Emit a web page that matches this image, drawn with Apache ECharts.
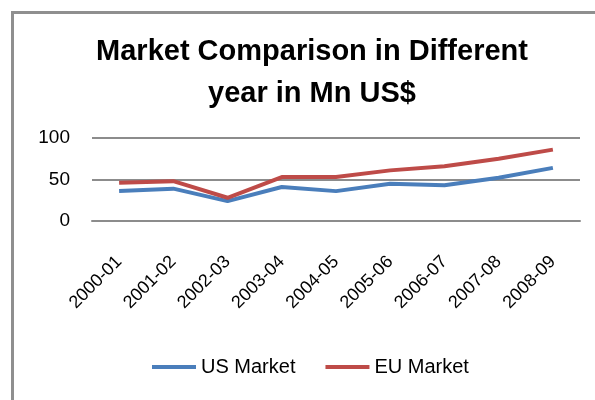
<!DOCTYPE html>
<html>
<head>
<meta charset="utf-8">
<script src="https://cdn.jsdelivr.net/npm/echarts@6/dist/echarts.min.js"></script>
<style>html,body{margin:0;padding:0;background:#fff;}#c{width:595px;height:400px;}</style>
</head>
<body>
<div id="c"></div>
<script>
var categories = ['2000-01','2001-02','2002-03','2003-04','2004-05','2005-06','2006-07','2007-08','2008-09'];
var usMarket = [36, 39, 24, 41, 36, 45, 43, 52, 64];
var euMarket = [46, 48, 28, 53, 53, 61, 66, 75, 86];
var yTicks = [0, 50, 100];

var chart = echarts.init(document.getElementById('c'), null, {renderer: 'canvas'});
var font = 'Liberation Sans, Arial, sans-serif';
chart.setOption({
  animation: false,
  backgroundColor: '#fff',
  graphic: [{
    type: 'rect', left: 10, top: 10, z: 100,
    shape: {x: 0, y: 0, width: 700, height: 500},
    style: {fill: 'none', stroke: '#8f8f8f', lineWidth: 3}
  }],
  title: {
    text: 'Market Comparison in Different\nyear in Mn US$',
    left: 307, textAlign: 'center', top: 26,
    textStyle: {fontFamily: font, fontWeight: 'bold', fontSize: 29, lineHeight: 42, color: '#000'}
  },
  legend: {
    bottom: 18, left: 147,
    icon: 'rect', itemWidth: 44, itemHeight: 4, itemGap: 30, itemTextGap: 7,
    textStyle: {fontFamily: font, fontSize: 20, color: '#000'},
    data: ['US Market', 'EU Market']
  },
  grid: {left: 92, right: 15, top: 138, bottom: 179, containLabel: false},
  xAxis: {
    type: 'category', data: categories, boundaryGap: true,
    axisLine: {show: true, lineStyle: {color: '#8c8c8c', width: 2}},
    axisTick: {show: false},
    axisLabel: {rotate: 45, margin: 38, fontFamily: font, fontSize: 18, color: '#000', interval: 0}
  },
  yAxis: {
    type: 'value', min: yTicks[0], max: yTicks[yTicks.length - 1], interval: 50,
    axisLine: {show: false}, axisTick: {show: false},
    splitLine: {lineStyle: {color: '#8c8c8c', width: 2}},
    axisLabel: {margin: 22, fontFamily: font, fontSize: 19, color: '#000'}
  },
  series: [
    {name: 'US Market', type: 'line', data: usMarket, showSymbol: false, symbol: 'none',
     lineStyle: {color: '#4a7ebb', width: 4}, itemStyle: {color: '#4a7ebb'}},
    {name: 'EU Market', type: 'line', data: euMarket, showSymbol: false, symbol: 'none',
     lineStyle: {color: '#be4b48', width: 4}, itemStyle: {color: '#be4b48'}}
  ]
});
</script>
</body>
</html>
